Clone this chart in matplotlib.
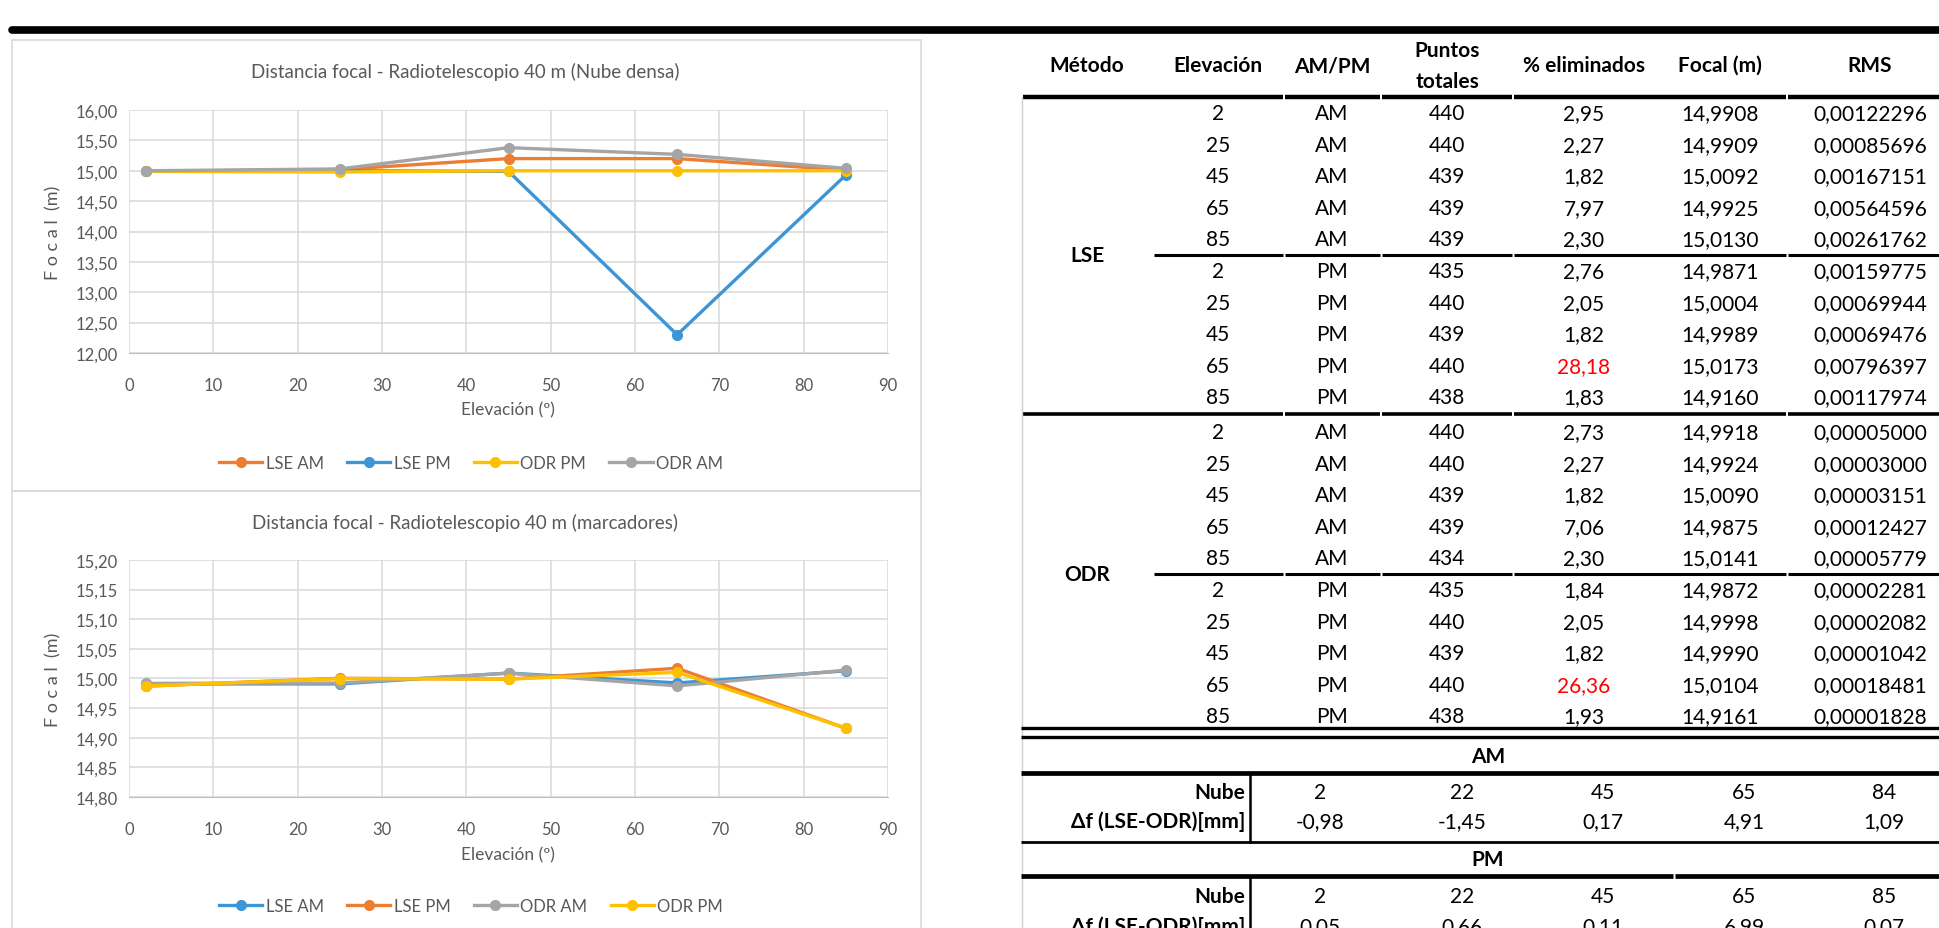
import numpy as np
import matplotlib.pyplot as plt
from matplotlib.ticker import FuncFormatter
from matplotlib.patches import Rectangle

plt.rcParams['font.family'] = ['Lato', 'DejaVu Sans']

W, H = 1939, 929

elevacion = [2, 25, 45, 65, 85]

# Nube densa
nube_lse_am = [14.99, 15.02, 15.20, 15.20, 15.01]
nube_lse_pm = [14.99, 15.00, 14.99, 12.30, 14.93]
nube_odr_pm = [14.99, 14.98, 15.00, 15.00, 15.00]
nube_odr_am = [15.00, 15.03, 15.38, 15.27, 15.04]

# tabla
turnos = ['AM'] * 5 + ['PM'] * 5
elev_filas = elevacion + elevacion
puntos_lse = [440, 440, 439, 439, 439, 435, 440, 439, 440, 438]
puntos_odr = [440, 440, 439, 439, 434, 435, 440, 439, 440, 438]
elim_lse = [2.95, 2.27, 1.82, 7.97, 2.30, 2.76, 2.05, 1.82, 28.18, 1.83]
elim_odr = [2.73, 2.27, 1.82, 7.06, 2.30, 1.84, 2.05, 1.82, 26.36, 1.93]
focal_lse = [14.9908, 14.9909, 15.0092, 14.9925, 15.0130,
             14.9871, 15.0004, 14.9989, 15.0173, 14.9160]
focal_odr = [14.9918, 14.9924, 15.0090, 14.9875, 15.0141,
             14.9872, 14.9998, 14.9990, 15.0104, 14.9161]
rms_lse = [0.00122296, 0.00085696, 0.00167151, 0.00564596, 0.00261762,
           0.00159775, 0.00069944, 0.00069476, 0.00796397, 0.00117974]
rms_odr = [0.00005000, 0.00003000, 0.00003151, 0.00012427, 0.00005779,
           0.00002281, 0.00002082, 0.00001042, 0.00018481, 0.00001828]

nube_am = [2, 22, 45, 65, 84]
delta_am = ['-0,98', '-1,45', '0,17', '4,91', '1,09']
nube_pm = [2, 22, 45, 65, 85]
delta_pm = ['0,05', '0,66', '0,11', '6,99', '0,07']

NARANJA = '#ED7D31'
AZUL = '#3D95D5'
GRIS = '#A5A5A5'
AMARILLO = '#FFC000'
TXT = '#595959'


def coma(v, nd):
    return f'{v:.{nd}f}'.replace('.', ',')


def caja(x0, y0, x1, y1):
    return [x0 / W, 1 - y1 / H, (x1 - x0) / W, (y1 - y0) / H]


fig = plt.figure(figsize=(W / 100, H / 100), dpi=100)

# capa de fondo en pixeles
bg = fig.add_axes([0, 0, 1, 1])
bg.set_xlim(0, W)
bg.set_ylim(H, 0)
bg.axis('off')

bg.plot([12, W], [31, 31], color='black', lw=5.5, solid_capstyle='round')
bg.add_patch(Rectangle((12, 41), 909, 451, fill=False, ec='#D9D9D9', lw=1.2))
bg.add_patch(Rectangle((12, 492), 909, 460, fill=False, ec='#D9D9D9', lw=1.2))


def grafico(rect, series, ylim, ystep, titulo, ty, xty, xly, legy):
    ax = fig.add_axes(caja(*rect))
    ax.set_facecolor('none')
    for nombre, vals, color in series:
        ax.plot(elevacion, vals, color=color, lw=2.4, marker='o', ms=7,
                label=nombre, clip_on=False)
    ax.set_xlim(0, 90)
    ax.set_ylim(*ylim)
    ax.set_xticks(range(0, 91, 10))
    ax.set_yticks(np.arange(ylim[0], ylim[1] + ystep / 2, ystep))
    ax.yaxis.set_major_formatter(FuncFormatter(lambda v, p: coma(v, 2)))
    ax.grid(True, color='#D9D9D9', lw=1.1)
    ax.set_axisbelow(True)
    for s in ax.spines.values():
        s.set_visible(False)
    ax.spines['bottom'].set_visible(True)
    ax.spines['bottom'].set_color('#BFBFBF')
    ax.tick_params(length=0, labelsize=12, colors=TXT, pad=8)
    ax.tick_params(axis='x', pad=(xty - rect[3]) - 8)
    fig.text(465 / W, 1 - ty / H, titulo, ha='center', va='center',
             fontsize=13.5, color=TXT)
    fig.text(508 / W, 1 - xly / H, 'Elevación (º)', ha='center', va='center',
             fontsize=12.5, color=TXT)
    fig.text(53 / W, 1 - (rect[1] + rect[3]) / 2 / H, 'F o c a l  (m)',
             ha='center', va='center', rotation=90, fontsize=13, color=TXT)
    fig.legend(*ax.get_legend_handles_labels(), loc='center',
               bbox_to_anchor=(471 / W, 1 - legy / H), ncol=4, frameon=False,
               fontsize=12, labelcolor=TXT, handlelength=2.6,
               handletextpad=0.2, columnspacing=1.4, borderaxespad=0)
    return ax


grafico((129, 111, 888, 354),
        [('LSE AM', nube_lse_am, NARANJA), ('LSE PM', nube_lse_pm, AZUL),
         ('ODR PM', nube_odr_pm, AMARILLO), ('ODR AM', nube_odr_am, GRIS)],
        (12.0, 16.0), 0.5, 'Distancia focal - Radiotelescopio 40 m (Nube densa)',
        72, 379, 410, 464)

grafico((129, 561, 888, 798),
        [('LSE AM', focal_lse[:5], AZUL), ('LSE PM', focal_lse[5:], NARANJA),
         ('ODR AM', focal_odr[:5], GRIS), ('ODR PM', focal_odr[5:], AMARILLO)],
        (14.80, 15.20), 0.05, 'Distancia focal - Radiotelescopio 40 m (marcadores)',
        523, 823, 855, 907)

# ---- tabla ----
FS = 15
cx = [1087, 1218, 1332, 1447, 1584, 1720, 1870]
cortes = [1284, 1381, 1513, 1787]


def hlinea(y, x0, lw, gaps=cortes):
    xs = [x0] + [g for g in gaps if g > x0] + [W + 5]
    for a, b in zip(xs[:-1], xs[1:]):
        bg.plot([a + 1, b - 1], [y, y], color='black', lw=lw,
                solid_capstyle='butt')


cab = ['Método', 'Elevación', 'AM/PM', None, '% eliminados', 'Focal (m)', 'RMS']
for x, t in zip(cx, cab):
    if t:
        bg.text(x, 66, t, ha='center', va='center', fontsize=FS, weight='bold')
bg.text(cx[3], 51, 'Puntos', ha='center', va='center', fontsize=FS, weight='bold')
bg.text(cx[3], 82, 'totales', ha='center', va='center', fontsize=FS, weight='bold')
hlinea(98, 1022, 3.2)

fila = 31.6
bloques = [('LSE', puntos_lse, elim_lse, focal_lse, rms_lse),
           ('ODR', puntos_odr, elim_odr, focal_odr, rms_odr)]
for b, (met, pts, elim, foc, rms) in enumerate(bloques):
    y0 = 114 + b * (10 * fila + 3)
    for i in range(10):
        y = y0 + i * fila
        col_el = 'red' if elim[i] > 20 else 'black'
        vals = [str(elev_filas[i]), turnos[i], str(pts[i]), coma(elim[i], 2),
                coma(foc[i], 4), coma(rms[i], 8)]
        for x, v, c in zip(cx[1:], vals, ['black', 'black', 'black', col_el,
                                           'black', 'black']):
            bg.text(x, y, v, ha='center', va='center', fontsize=FS, color=c)
    ymid = y0 + 4.5 * fila
    bg.text(cx[0], ymid, met, ha='center', va='center', fontsize=FS, weight='bold')
    hlinea(ymid, 1153, 2.2)
    if b == 0:
        hlinea(y0 + 9.5 * fila + 1, 1022, 2.6)

bg.plot([1022, 1022], [98, H], color='#D0D0D0', lw=1)

# doble linea y tabla de diferencias
hlinea(729, 1020, 2.4, gaps=())
hlinea(738, 1020, 2.4, gaps=())
bg.text(1488, 757, 'AM', ha='center', va='center', fontsize=FS, weight='bold')
hlinea(774, 1020, 3.4, gaps=())
hlinea(843, 1020, 2.0, gaps=())
bg.text(1488, 860, 'PM', ha='center', va='center', fontsize=FS, weight='bold')
hlinea(877, 1020, 3.4, gaps=(1674,))
bg.plot([1250, 1250], [774, 843], color='black', lw=1.8)
bg.plot([1250, 1250], [877, H + 5], color='black', lw=1.8)

dx = [1320, 1462, 1603, 1744, 1884]
for ynube, ydelta, nube, delta in [(793, 822, nube_am, delta_am),
                                   (897, 927, nube_pm, delta_pm)]:
    bg.text(1245, ynube, 'Nube', ha='right', va='center', fontsize=FS, weight='bold')
    bg.text(1245, ydelta, 'Δf (LSE-ODR)[mm]', ha='right', va='center',
            fontsize=FS, weight='bold')
    for x, n, d in zip(dx, nube, delta):
        bg.text(x, ynube, str(n), ha='center', va='center', fontsize=FS)
        bg.text(x, ydelta, d, ha='center', va='center', fontsize=FS)

fig.savefig('out.png', dpi=100)
